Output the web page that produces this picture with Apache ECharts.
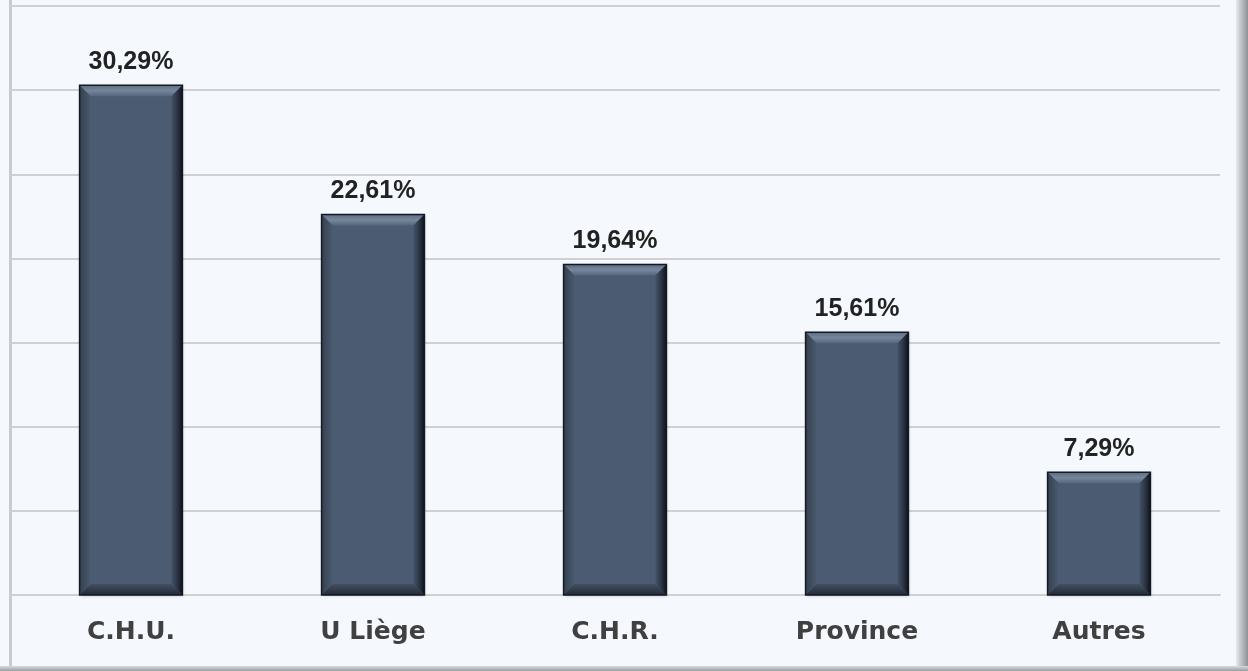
<!DOCTYPE html>
<html>
<head>
<meta charset="utf-8">
<script src="https://cdn.jsdelivr.net/npm/echarts@6/dist/echarts.min.js"></script>
<style>
  html, body { margin: 0; padding: 0; background: #f5f8fd; }
  #chart { width: 1248px; height: 671px; }
</style>
</head>
<body>
<div id="chart"></div>
<script>
  // données
  const categories = ['C.H.U.', 'U Liège', 'C.H.R.', 'Province', 'Autres']
  const shares = [30.29, 22.61, 19.64, 15.61, 7.29]
  const axisMax = 35
  const axisStep = 5

  const chart = echarts.init(document.getElementById('chart'))
  const BAR_RATIO = 0.425
  const BEVEL = 11

  // --- biseau des barres (effet 3D) ---
  const renderBevel = (params, api) => {
    const i = api.value(0)
    const top = api.coord([i, api.value(1)])
    const base = api.coord([i, 0])
    const w = api.size([1, 0])[0] * BAR_RATIO
    const x0 = top[0] - w / 2, x1 = top[0] + w / 2
    const y0 = top[1], yb = base[1]
    const b = Math.min(BEVEL, (yb - y0) / 2)
    return {
      type: 'group',
      children: [
        { type: 'polygon', shape: { points: [[x0, y0], [x1, y0], [x1 - b, y0 + b], [x0 + b, y0 + b]] },
          style: { fill: new echarts.graphic.LinearGradient(0, 0, 0, 1, [
            { offset: 0, color: '#5d6d83' }, { offset: 0.5, color: '#76869c' }, { offset: 1, color: '#55657b' }
          ]) } },
        { type: 'polygon', shape: { points: [[x1, y0], [x1, yb], [x1 - b, yb - b], [x1 - b, y0 + b]] },
          style: { fill: new echarts.graphic.LinearGradient(0, 0, 1, 0, [
            { offset: 0, color: '#45536a' }, { offset: 0.6, color: '#27303e' }, { offset: 1, color: '#0e131b' }
          ]) } },
        { type: 'polygon', shape: { points: [[x0, y0], [x0 + b, y0 + b], [x0 + b, yb - b], [x0, yb]] },
          style: { fill: new echarts.graphic.LinearGradient(0, 0, 1, 0, [
            { offset: 0, color: '#34404f' }, { offset: 1, color: '#4a5a6f' }
          ]) } },
        { type: 'polygon', shape: { points: [[x0, yb], [x0 + b, yb - b], [x1 - b, yb - b], [x1, yb]] },
          style: { fill: new echarts.graphic.LinearGradient(0, 0, 0, 1, [
            { offset: 0, color: '#434f62' }, { offset: 1, color: '#222a36' }
          ]) } },
        { type: 'rect', shape: { x: x0, y: y0, width: w, height: yb - y0 },
          style: { fill: 'none', stroke: '#141a24', lineWidth: 1.5 } }
      ]
    }
  }

  const option = {
    backgroundColor: '#f5f8fd',
    animation: false,
    grid: { left: 10, right: 28, top: 6, bottom: 76 },
    // cadre (bord gauche, droit et bas)
    graphic: [
      { type: 'rect', shape: { x: 9, y: 0, width: 3, height: 671 }, style: { fill: '#c9cbce' }, z: 0 },
      { type: 'rect', shape: { x: 1236, y: 0, width: 12, height: 671 },
        style: { fill: new echarts.graphic.LinearGradient(0, 0, 1, 0, [
          { offset: 0, color: '#e8eaee' }, { offset: 0.5, color: '#b9bcc2' }, { offset: 1, color: '#8e9299' }
        ]) }, z: 0 },
      { type: 'rect', shape: { x: 0, y: 666, width: 1248, height: 5 },
        style: { fill: new echarts.graphic.LinearGradient(0, 0, 0, 1, [
          { offset: 0, color: '#d8dade' }, { offset: 1, color: '#9a9ea5' }
        ]) }, z: 0 }
    ],
    xAxis: {
      type: 'category',
      data: categories,
      axisLine: { show: true, lineStyle: { color: '#d0d0d0', width: 2 } },
      axisTick: { show: false },
      axisLabel: {
        color: '#404040',
        fontFamily: 'DejaVu Sans',
        fontWeight: 'bold',
        fontSize: 25,
        margin: 25
      }
    },
    yAxis: {
      type: 'value',
      min: 0,
      max: axisMax,
      interval: axisStep,
      axisLine: { show: false },
      axisTick: { show: false },
      axisLabel: { show: false },
      splitLine: { lineStyle: { color: '#d0d0d0', width: 2 } }
    },
    series: [
      {
        type: 'bar',
        data: shares,
        barWidth: (BAR_RATIO * 100) + '%',
        itemStyle: {
          color: '#4b5b71',
          shadowColor: 'rgba(0,0,0,0.25)',
          shadowBlur: 3,
          shadowOffsetX: 1,
          shadowOffsetY: 1
        },
        label: {
          show: true,
          position: 'top',
          distance: 11,
          color: '#222',
          fontFamily: 'Liberation Sans',
          fontWeight: 'bold',
          fontSize: 25,
          formatter: p => p.value.toFixed(2).replace('.', ',') + '%'
        }
      },
      {
        type: 'custom',
        data: shares.map((v, i) => [i, v]),
        encode: { x: 0, y: 1 },
        renderItem: renderBevel,
        silent: true,
        z: 3
      }
    ]
  }

  chart.setOption(option)
</script>
</body>
</html>
